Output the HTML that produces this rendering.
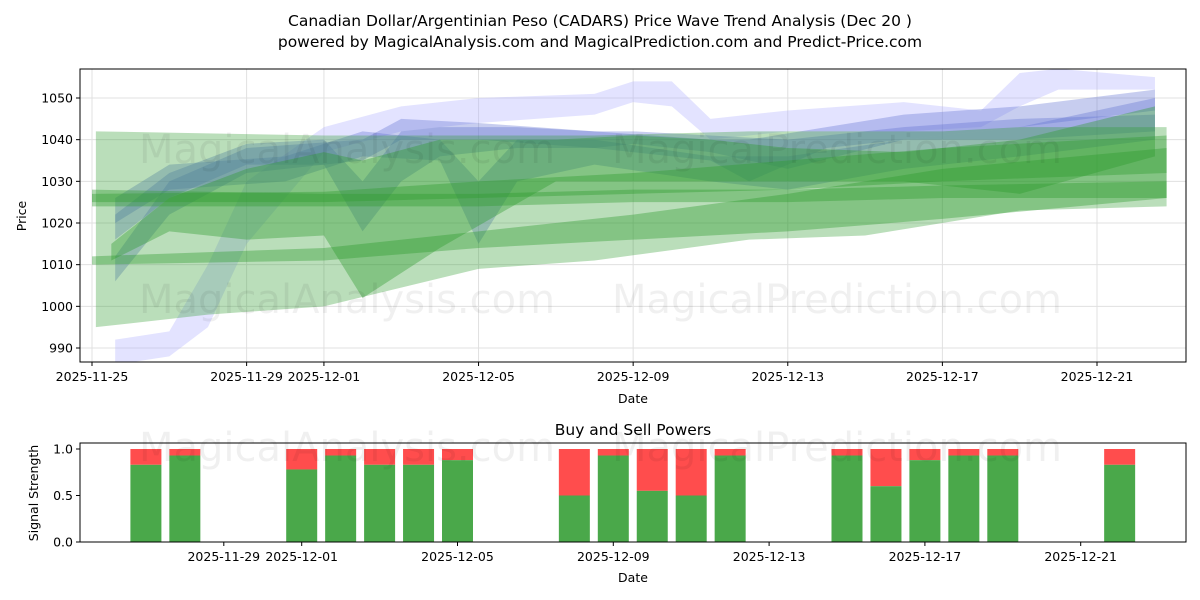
<!DOCTYPE html>
<html><head><meta charset="utf-8"><style>
body{margin:0;background:#fff;}
svg{display:block;font-family:"DejaVu Sans","Liberation Sans",sans-serif;}
</style></head><body>
<svg id="c" width="1200" height="600" viewBox="0 0 1200 600">
<text x="600" y="26" text-anchor="middle" font-size="15.5">Canadian Dollar/Argentinian Peso (CADARS) Price Wave Trend Analysis (Dec 20 )</text>
<text x="600" y="47" text-anchor="middle" font-size="15.5">powered by MagicalAnalysis.com and MagicalPrediction.com and Predict-Price.com</text>
<g id="main"></g>
<g id="sub"></g>
</svg>
<script>
const mainTickDays=[0,4,6,10,14,18,22,26];
const mainTickLabels=["2025-11-25","2025-11-29","2025-12-01","2025-12-05","2025-12-09","2025-12-13","2025-12-17","2025-12-21"];
const yTicks=[990,1000,1010,1020,1030,1040,1050];
const greenBands=[
 [[0.1,995,1042],[3,998,1041.5],[6,1000,1041],[10,1009,1041],[13,1011,1041],[17,1016,1042],[20,1017,1042],[22,1020,1042],[24,1023,1043],[27.8,1024,1043]],
 [[0,1025,1027],[6,1025,1027.5],[10,1026,1030],[14,1027,1032],[18,1028,1035],[22,1030,1038],[27.8,1032,1041]],
 [[0,1010,1012],[6,1011,1014],[10,1014,1018],[14,1016,1022],[18,1018,1027],[22,1021,1033],[27.8,1026,1038]],
 [[0.5,1011,1015],[2,1018,1026],[4,1016,1033],[6,1017,1037],[7,1002,1035],[9,1014,1040],[12,1030,1040],[14,1030,1041],[16,1030,1040],[18,1030,1038],[21,1030,1037],[24,1027,1040],[27.5,1036,1048]],
 [[0,1024,1028],[6,1024,1027],[10,1024,1027],[14,1025,1028],[18,1025,1028],[22,1026,1029],[27.8,1026,1030]]
];
const blueBands=[
 [[0.6,986,992],[2,988,994],[3,995,1010],[4,1015,1030],[6,1037,1043],[8,1042,1048],[10,1044,1050],[13,1046,1051],[14,1049,1054],[15,1048,1054],[16,1040,1045],[18,1042,1047],[21,1042,1049],[23,1043,1047],[24,1048,1056],[25,1052,1057],[27.5,1052,1055]],
 [[0.6,1006,1012],[2,1022,1030],[4,1032,1038],[7,1035,1040],[8,1040,1045],[10,1040,1044],[13,1038,1042],[14,1039,1042],[16,1037,1041],[18,1033,1040],[21,1040,1043],[24,1040,1045],[27.5,1042,1046]],
 [[0.6,1016,1022],[2,1026,1032],[4,1034,1039],[6,1034,1040],[7,1018,1030],[8,1030,1042],[9,1036,1043],[11,1038,1043],[13,1038,1042],[16,1035,1040],[17,1030,1040],[19,1038,1043],[21,1040,1046],[24,1043,1048],[27.5,1047,1052]],
 [[0.6,1020,1026],[2,1028,1034],[5,1030,1036],[7,1036,1042],[9,1035,1040],[10,1015,1030],[11,1030,1040],[13,1034,1040],[16,1030,1036],[18,1028,1036],[21,1033,1040],[24,1036,1043],[27.5,1040,1050]]
];
const subDays=[2,3,6,7,8,9,10,13,14,15,16,17,20,21,22,23,24,27];
const buyVals=[0.83,0.93,0.78,0.93,0.83,0.83,0.88,0.5,0.93,0.55,0.5,0.93,0.93,0.6,0.88,0.93,0.93,0.83];
const subTickDays=[4,6,10,14,18,22,26];
const subTickLabels=["2025-11-29","2025-12-01","2025-12-05","2025-12-09","2025-12-13","2025-12-17","2025-12-21"];
const sigTicks=[0,0.5,1];

const NS="http://www.w3.org/2000/svg";
function mk(p,t,a,txt){const e=document.createElementNS(NS,t);for(const k in a)e.setAttribute(k,a[k]);if(txt!==undefined)e.textContent=txt;p.appendChild(e);return e;}
const M={l:80,r:1186,t:69,b:362};
const xM=d=>92+d*38.654, yM=v=>348-(v-990)*250/60;
const S={l:80,r:1186,t:443,b:542};
const xS=d=>68+d*38.95, yS=v=>542-v*93;
const g=document.getElementById('main'), s=document.getElementById('sub');
mainTickDays.forEach((d,i)=>{const l=mk(g,'line',{x1:xM(d),x2:xM(d),y1:M.t,y2:M.b,stroke:'#e0e0e0'});});
yTicks.forEach(v=>{const l=mk(g,'line',{x1:M.l,x2:M.r,y1:yM(v),y2:yM(v),stroke:'#e0e0e0'});});
[[347,150],[837,150],[347,300],[837,300],[347,448],[837,448]].forEach(p=>{const t=mk(document.getElementById('c'),'text',{x:p[0],y:p[1]+13,'text-anchor':'middle','font-size':40,fill:'#000','fill-opacity':0.06},p[0]<600?'MagicalAnalysis.com':'MagicalPrediction.com');});
function band(arr,fill,op){const up=arr.map(p=>xM(p[0])+','+yM(p[2]));const lo=arr.slice().reverse().map(p=>xM(p[0])+','+yM(p[1]));const e=mk(g,'polygon',{points:up.concat(lo).join(' '),fill:fill,'fill-opacity':op});return e;}
const clip=mk(g,'clipPath',{id:'cm'});mk(clip,'rect',{x:M.l,y:M.t,width:M.r-M.l,height:M.b-M.t});
const bg=mk(g,'g',{'clip-path':'url(#cm)'});
blueBands.forEach((b,i)=>{const e=band(b,i==0?'#b0b0ff':'#5f6fd0',i==0?0.35:0.35);bg.appendChild(e);});
greenBands.forEach((b,i)=>{const e=band(b,'#2e9a2e',i==0?0.33:0.38);bg.appendChild(e);});
mk(g,'rect',{x:M.l,y:M.t,width:M.r-M.l,height:M.b-M.t,fill:'none',stroke:'#000'});
mainTickDays.forEach((d,i)=>{mk(g,'line',{x1:xM(d),x2:xM(d),y1:M.b,y2:M.b+4,stroke:'#000'});const t=mk(g,'text',{x:xM(d),y:M.b+19,'text-anchor':'middle','font-size':12.5},mainTickLabels[i]);});
yTicks.forEach(v=>{mk(g,'line',{x1:M.l-4,x2:M.l,y1:yM(v),y2:yM(v),stroke:'#000'});const t=mk(g,'text',{x:M.l-7,y:yM(v)+4.5,'text-anchor':'end','font-size':12.5},v);});
let t=mk(g,'text',{x:633,y:403,'text-anchor':'middle','font-size':12.5},'Date');
t=mk(g,'text',{x:26,y:216,'text-anchor':'middle','font-size':12.5,transform:'rotate(-90 26 216)'},'Price');
t=mk(s,'text',{x:633,y:435,'text-anchor':'middle','font-size':15.5},'Buy and Sell Powers');
subDays.forEach((d,i)=>{const x=xS(d)-15.5;const r=mk(s,'rect',{x:x,y:yS(1),width:31,height:yS(buyVals[i])-yS(1),fill:'#ff4d4d'});
const b=mk(s,'rect',{x:x,y:yS(buyVals[i]),width:31,height:yS(0)-yS(buyVals[i]),fill:'#4aa84a'});});
mk(s,'rect',{x:S.l,y:S.t,width:S.r-S.l,height:S.b-S.t,fill:'none',stroke:'#000'});
subTickDays.forEach((d,i)=>{mk(s,'line',{x1:xS(d),x2:xS(d),y1:S.b,y2:S.b+4,stroke:'#000'});const t=mk(s,'text',{x:xS(d),y:S.b+19,'text-anchor':'middle','font-size':12.5},subTickLabels[i]);});
sigTicks.forEach(v=>{mk(s,'line',{x1:S.l-4,x2:S.l,y1:yS(v),y2:yS(v),stroke:'#000'});const t=mk(s,'text',{x:S.l-7,y:yS(v)+4.5,'text-anchor':'end','font-size':12.5},v.toFixed(1));});
t=mk(s,'text',{x:633,y:582,'text-anchor':'middle','font-size':12.5},'Date');
t=mk(s,'text',{x:38,y:493,'text-anchor':'middle','font-size':12.5,transform:'rotate(-90 38 493)'},'Signal Strength');
</script>
</body></html>
